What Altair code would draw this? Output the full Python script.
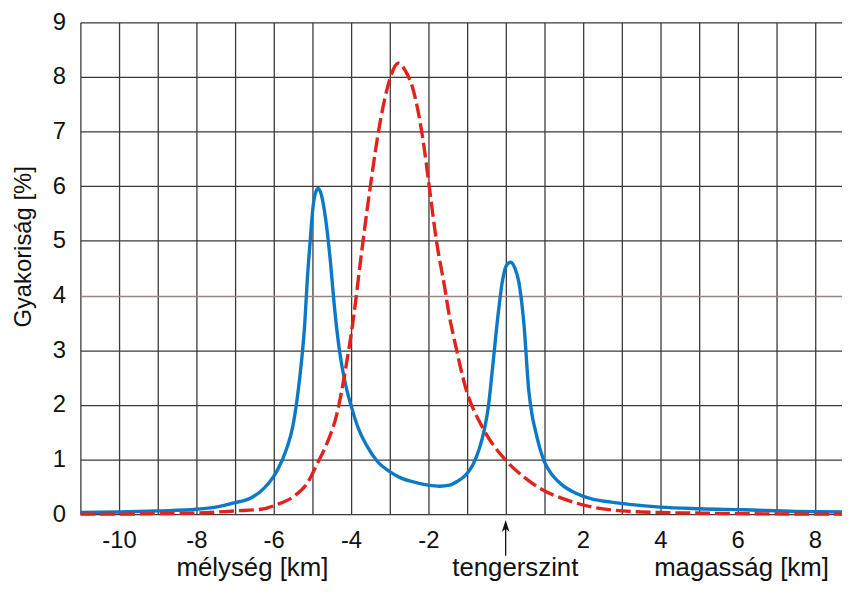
import json
import altair as alt
import pandas as pd

# ---- data ----
blue_x = [-11, -10, -9, -8, -7.5, -7.18, -7.0, -6.58, -6.24, -6.0, -5.9, -5.68, -5.51, -5.38,
          -5.28, -5.2, -5.13, -5.05, -5.0, -4.93, -4.85, -4.77, -4.66, -4.53, -4.43, -4.3,
          -4.15, -4.0, -3.8, -3.59, -3.3, -3.0, -2.7, -2.39, -2.0, -1.71, -1.45, -1.25, -1.03,
          -0.85, -0.68, -0.55, -0.45, -0.34, -0.21, -0.08, 0.02, 0.13, 0.24, 0.34, 0.47, 0.6,
          0.68, 0.77, 0.9, 1.0, 1.2, 1.45, 1.79, 2.22, 2.73, 3.2, 4.0, 5.0, 6.15, 7.5, 8.7]
blue_y = [0.03, 0.04, 0.06, 0.09, 0.13, 0.18, 0.21, 0.3, 0.48, 0.69, 0.81, 1.17, 1.59, 2.18,
          2.8, 3.45, 4.3, 5.05, 5.5, 5.85, 5.96, 5.85, 5.42, 4.6, 3.8, 3.0,
          2.4, 1.99, 1.55, 1.25, 0.95, 0.78, 0.66, 0.59, 0.53, 0.51, 0.53, 0.6, 0.72,
          0.9, 1.2, 1.55, 1.95, 2.67, 3.56, 4.28, 4.55, 4.61, 4.5, 4.25, 3.5, 2.25,
          1.83, 1.53, 1.17, 0.96, 0.72, 0.54, 0.39, 0.28, 0.22, 0.18, 0.13, 0.1, 0.08, 0.05, 0.04]

red_x = [-11, -10, -9, -8, -7.0, -6.33, -5.9, -5.47, -5.13, -4.87, -4.62, -4.36, -4.15,
         -3.93, -3.76, -3.5, -3.25, -3.0, -2.78, -2.6, -2.39, -2.14, -1.97, -1.79, -1.58,
         -1.45, -1.33, -1.03, -0.6, 0.0, 0.51, 0.94, 1.5, 2.31, 3.0, 4.0, 5.0, 6.0, 8.7]
red_y = [0.0, 0.0, 0.01, 0.02, 0.06, 0.09, 0.18, 0.33, 0.57, 0.93, 1.3, 1.85, 2.62,
         3.62, 4.6, 6.0, 7.16, 7.95, 8.25, 8.12, 7.76, 6.86, 5.96, 5.0, 4.16,
         3.6, 3.2, 2.3, 1.59, 0.99, 0.66, 0.45, 0.28, 0.12, 0.06, 0.03, 0.02, 0.01, 0.0]

x_grid_values = list(range(-11, 9))
x_tick_labels = [-10, -8, -6, -4, -2, 2, 4, 6, 8]
y_tick_values = list(range(0, 10))
y_title = "Gyakoriság [%]"
bottom_labels = ["mélység [km]", "tengerszint", "magasság [km]"]
bottom_label_x = [-6.55, 0.25, 6.1]
sea_level_x = [0]

FONT = "Liberation Sans"
BLUE = "#0b79c7"
RED = "#e3231b"
GRID = "#3a3a3a"

blue_df = pd.DataFrame({"x": blue_x, "y": blue_y})
red_df = pd.DataFrame({"x": red_x, "y": red_y})
text_df = pd.DataFrame({"x": bottom_label_x, "label": bottom_labels})
sea_df = pd.DataFrame({"x": sea_level_x})

xscale = alt.Scale(domain=[-11, 8.7], nice=False, zero=False)
yscale = alt.Scale(domain=[0, 9], nice=False, zero=True)

label_expr = "indexof(%s, datum.value) >= 0 ? '' + datum.value : ''" % json.dumps(x_tick_labels)

x_axis = alt.Axis(values=x_grid_values, grid=True, ticks=False, domain=False, title=None,
                  labelExpr=label_expr, labelOverlap=False, labelPadding=15,
                  labelFontSize=24, labelFont=FONT, labelColor="#111",
                  gridColor=GRID, gridWidth=1.3, gridOpacity=1)
y_axis = alt.Axis(values=y_tick_values, grid=True, ticks=False, domain=False,
                  labelExpr="'' + datum.value", labelOverlap=False,
                  title=y_title, titleFont=FONT, titleFontSize=24, titleFontWeight="normal",
                  titleColor="#111", titleAngle=270, titleX=-57, titleY=226,
                  titleAlign="center", titleBaseline="middle",
                  labelFontSize=24, labelFont=FONT, labelColor="#111", labelPadding=15,
                  gridColor={"condition": {"test": "datum.value == 4", "value": "#9a8585"},
                             "value": GRID},
                  gridWidth=1.3, gridOpacity=1)

blue = alt.Chart(blue_df).mark_line(color=BLUE, strokeWidth=3.4, interpolate="monotone").encode(
    x=alt.X("x:Q", scale=xscale, axis=x_axis),
    y=alt.Y("y:Q", scale=yscale, axis=y_axis),
)
red = alt.Chart(red_df).mark_line(color=RED, strokeWidth=3.4, strokeDash=[15, 5],
                                  interpolate="monotone").encode(
    x=alt.X("x:Q", scale=xscale),
    y=alt.Y("y:Q", scale=yscale),
)
texts = alt.Chart(text_df).mark_text(font=FONT, fontSize=26, color="#111",
                                     baseline="alphabetic", align="center").encode(
    x=alt.X("x:Q", scale=xscale),
    y=alt.value(558),
    text="label:N",
)
arrow = alt.Chart(sea_df).mark_rule(color="#111", strokeWidth=1.3).encode(
    x=alt.X("x:Q", scale=xscale),
    y=alt.value(506),
    y2=alt.value(538),
)
arrow_head = alt.Chart(sea_df).mark_point(shape="M0,-1L-0.65,1L0,0.45L0.65,1Z", filled=True,
                                           size=144, color="#111", opacity=1).encode(
    x=alt.X("x:Q", scale=xscale),
    y=alt.value(508),
)

chart = alt.layer(blue, red, texts, arrow, arrow_head).properties(
    width=768, height=496,
    autosize=alt.AutoSizeParams(type="none"),
    padding={"left": 73, "top": 12, "right": 0, "bottom": 68},
    background="white",
).configure_view(stroke=None)

chart.save("out.html", embed_options={"renderer": "svg", "actions": False})
